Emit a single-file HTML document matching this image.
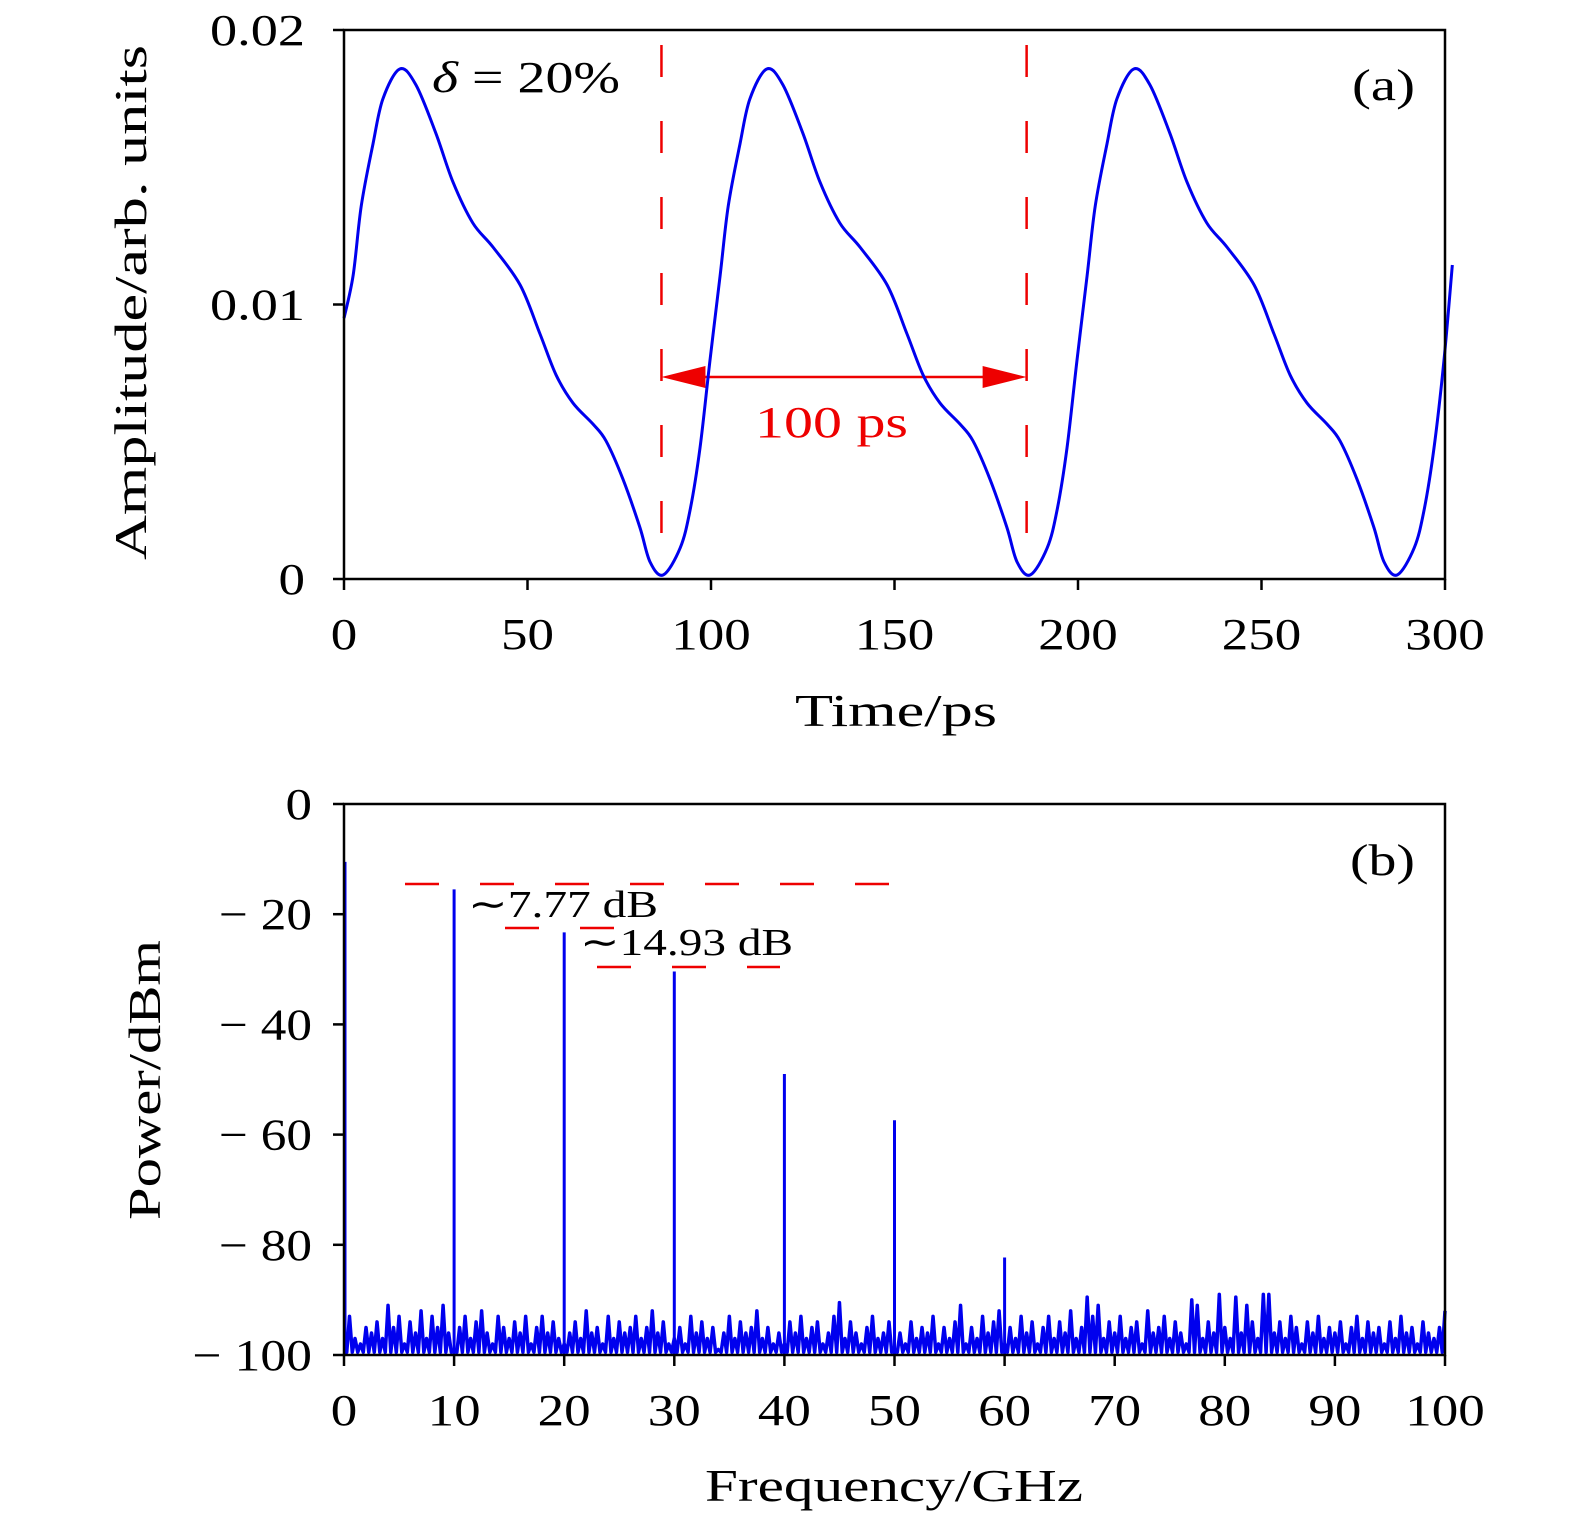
<!DOCTYPE html>
<html><head><meta charset="utf-8"><style>
body{margin:0;background:#fff}
svg text{font-family:"Liberation Serif",serif;fill:#000}
</style></head><body>
<svg id="c" width="1575" height="1535" viewBox="0 0 1575 1535" xmlns="http://www.w3.org/2000/svg"></svg>
<script>
// Panel (a) data
const timePs=[0,2.5,4.7,7.9,10.6,15.2,19.6,25,29.7,35.1,40.6,48,53.4,57.8,62.4,67.8,71.4,76,80.6,83.4,87,91.6,94.3,97,99.7,
102.5,104.7,107.9,110.6,115.2,119.6,125,129.7,135.1,140.6,148,153.4,157.8,162.4,167.8,171.4,176,180.6,183.4,187,191.6,194.3,197,199.7,
202.5,204.7,207.9,210.6,215.2,219.6,225,229.7,235.1,240.6,248,253.4,257.8,262.4,267.8,271.4,276,280.6,283.4,287,291.6,294.3,297,299.7,302];
const amplitude=[0.0095,0.01107,0.01359,0.01585,0.01749,0.01858,0.018,0.01625,0.01446,0.01297,0.01209,0.01071,0.00893,0.00743,0.00641,0.00565,0.00503,0.00364,0.00189,0.00062,0.00015,0.00113,0.00251,0.00477,0.00794,
0.01107,0.01359,0.01585,0.01749,0.01858,0.018,0.01625,0.01446,0.01297,0.01209,0.01071,0.00893,0.00743,0.00641,0.00565,0.00503,0.00364,0.00189,0.00062,0.00015,0.00113,0.00251,0.00477,0.00794,
0.01107,0.01359,0.01585,0.01749,0.01858,0.018,0.01625,0.01446,0.01297,0.01209,0.01071,0.00893,0.00743,0.00641,0.00565,0.00503,0.00364,0.00189,0.00062,0.00015,0.00113,0.00251,0.00477,0.00794,0.01144];
const xTicksA=[0,50,100,150,200,250,300];
const yTicksA=[0,0.01,0.02];
const yTickLabelsA=["0","0.01","0.02"];
// Panel (b) data
const peakFreqs=[0,10,20,30,40,50,60];
const peakPower=[-10.5,-15.5,-23.3,-30.4,-49,-57.4,-82.3];
const noiseStep=0.5;
const noisePower=[
-99,-93,-97,-98,-95,-96,-94,-97,-91,-95,-93,-98,-94,-96,-92,-97,-93,-95,-91,-96,
-99,-95,-93,-97,-94,-92,-96,-98,-93,-95,-97,-94,-96,-93,-98,-95,-93,-96,-94,-97,
-98,-96,-94,-97,-92,-96,-95,-98,-93,-97,-94,-96,-95,-93,-97,-95,-92,-96,-94,-98,
-97,-95,-98,-93,-96,-94,-97,-95,-99,-96,-93,-97,-94,-96,-95,-92,-97,-95,-98,-96,
-98,-94,-96,-93,-97,-95,-94,-98,-96,-93,-90.5,-97,-94,-96,-98,-95,-93,-97,-96,-94,
-99,-96,-98,-94,-97,-95,-96,-93,-98,-95,-97,-94,-91,-98,-95,-97,-93,-96,-94,-92,
-98,-95,-97,-93,-96,-94,-98,-95,-93,-97,-94,-96,-92,-97,-95,-89.5,-93,-91,-97,-94,
-96,-93,-97,-95,-94,-98,-92,-96,-95,-93,-97,-94,-96,-98,-90,-91,-97,-94,-96,-89,
-95,-97,-89.5,-96,-91,-94,-97,-89,-89,-96,-94,-97,-93,-95,-98,-94,-96,-93,-97,-95,
-96,-94,-98,-95,-93,-97,-94,-96,-95,-98,-94,-97,-93,-96,-95,-98,-94,-96,-97,-95,-92];
const noiseFloor=-99.5;
const xTicksB=[0,10,20,30,40,50,60,70,80,90,100];
const yTicksB=[0,-20,-40,-60,-80,-100];
const yTickLabelsB=["0","\u2212 20","\u2212 40","\u2212 60","\u2212 80","\u2212 100"];

const NS="http://www.w3.org/2000/svg";
const svg=document.getElementById('c');
function mk(tag,attrs,parent){const e=document.createElementNS(NS,tag);for(const k in attrs)e.setAttribute(k,attrs[k]);(parent||svg).appendChild(e);return e;}
function fit(e,len){e.setAttribute('textLength',len);e.setAttribute('lengthAdjust','spacingAndGlyphs');}
const L=344,R=1445;
const axA={t:30,b:579}, axB={t:804,b:1355};
const xA=t=>L+(t-0)/300*(R-L);
const yA=v=>axA.b-v/0.02*(axA.b-axA.t);
const xB=f=>L+f/100*(R-L);
const yB=p=>axB.t+(0-p)/100*(axB.b-axB.t);
const digitW=26.5;

function smoothPath(pts){let d=`M${pts[0][0]},${pts[0][1]}`;
 for(let i=0;i<pts.length-1;i++){const p0=pts[Math.max(0,i-1)],p1=pts[i],p2=pts[i+1],p3=pts[Math.min(pts.length-1,i+2)];
 const c1x=p1[0]+(p2[0]-p0[0])/6,c1y=p1[1]+(p2[1]-p0[1])/6,c2x=p2[0]-(p3[0]-p1[0])/6,c2y=p2[1]-(p3[1]-p1[1])/6;
 d+=` C${c1x},${c1y} ${c2x},${c2y} ${p2[0]},${p2[1]}`;}return d;}

// ---- Panel A ----
let g=mk('g',{});


[86.5,186].forEach(t=>{const l=mk('line',{x1:xA(t),x2:xA(t),y1:45,y2:572,stroke:'#e00',"stroke-width":2.5,"stroke-dasharray":"32,44"},g);
 });
let ar=mk('g',{},g);


mk('line',{x1:xA(86.5)+40,x2:xA(186)-40,y1:377,y2:377,stroke:'#e00',"stroke-width":2.5},ar);
mk('polygon',{points:`${xA(86.5)},377 ${xA(86.5)+44},366 ${xA(86.5)+44},388`,fill:'#e00'},ar);
mk('polygon',{points:`${xA(186)},377 ${xA(186)-44},366 ${xA(186)-44},388`,fill:'#e00'},ar);
let t1=mk('text',{x:755,y:437,"font-size":44,style:"fill:#e00"},g);t1.textContent="100 ps";fit(t1,153);

let pa=mk('path',{d:smoothPath(timePs.map((t,i)=>[xA(t),yA(amplitude[i])])),fill:'none',stroke:'#0000ee',"stroke-width":3},g);

mk('rect',{x:L,y:axA.t,width:R-L,height:axA.b-axA.t,fill:'none',stroke:'#000',"stroke-width":2.5},g);
xTicksA.forEach(t=>{mk('line',{x1:xA(t),x2:xA(t),y1:axA.b,y2:axA.b+11,stroke:'#000',"stroke-width":2.5},g);
 const s=String(t);const tx=mk('text',{x:xA(t)-s.length*digitW/2,y:649,"font-size":44},g);tx.textContent=s;fit(tx,s.length*digitW);
 });
yTicksA.forEach((v,i)=>{mk('line',{x1:L-11,x2:L,y1:yA(v),y2:yA(v),stroke:'#000',"stroke-width":2.5},g);
 const s=yTickLabelsA[i];const w=s.length===1?digitW:95;
 const tx=mk('text',{x:305-w,y:yA(v)+15,"font-size":44},g);tx.textContent=s;fit(tx,w);
 });
let xt=mk('text',{x:795,y:726,"font-size":46},g);xt.textContent="Time/ps";fit(xt,202);

let yt=mk('text',{x:0,y:0,"font-size":46,transform:"translate(146,560) rotate(-90)"},g);yt.textContent="Amplitude/arb. units";fit(yt,515);

let dl=mk('text',{x:432,y:92,"font-size":44},g);dl.innerHTML='<tspan font-style="italic">δ</tspan> = 20%';fit(dl,188);

let la=mk('text',{x:1352,y:100,"font-size":44},g);la.textContent="(a)";fit(la,63);


// ---- Panel B ----
g=mk('g',{});


let pts=[];noisePower.forEach((p,i)=>{const f=i*noiseStep;pts.push(`${xB(f)},${yB(p)}`);if(i<noisePower.length-1)pts.push(`${xB(f+noiseStep/2)},${yB(noiseFloor)}`);});
let nz=mk('polyline',{points:pts.join(' '),fill:'none',stroke:'#0000ee',"stroke-width":3.5,"stroke-linejoin":"round"},g);

peakFreqs.forEach((f,i)=>{const l=mk('line',{x1:xB(f)+(f===0?1:0),x2:xB(f)+(f===0?1:0),y1:yB(peakPower[i]),y2:yB(-100),stroke:'#0000ee',"stroke-width":3},g);
 });
[[405,890,884],[505,625,928],[597,780,967]].forEach(s=>{const l=mk('line',{x1:s[0],x2:s[1],y1:s[2],y2:s[2],stroke:'#e00',"stroke-width":2.5,"stroke-dasharray":"34,41"},g);
 });
let a1=mk('text',{x:468,y:917,"font-size":38},g);a1.textContent="∼7.77 dB";fit(a1,190);

let a2=mk('text',{x:580,y:955,"font-size":38},g);a2.textContent="∼14.93 dB";fit(a2,213);

mk('rect',{x:L,y:axB.t,width:R-L,height:axB.b-axB.t,fill:'none',stroke:'#000',"stroke-width":2.5},g);
xTicksB.forEach(f=>{mk('line',{x1:xB(f),x2:xB(f),y1:axB.b,y2:axB.b+11,stroke:'#000',"stroke-width":2.5},g);
 const s=String(f);const tx=mk('text',{x:xB(f)-s.length*digitW/2,y:1425,"font-size":44},g);tx.textContent=s;fit(tx,s.length*digitW);
 });
yTicksB.forEach((p,i)=>{mk('line',{x1:L-11,x2:L,y1:yB(p),y2:yB(p),stroke:'#000',"stroke-width":2.5},g);
 const s=yTickLabelsB[i];const nd=s.replace(/[^0-9]/g,'').length;const w=nd===1?digitW:(nd*digitW+40);
 const tx=mk('text',{x:312-w,y:yB(p)+15,"font-size":44},g);tx.textContent=s;fit(tx,w);
 });
xt=mk('text',{x:705,y:1501,"font-size":46},g);xt.textContent="Frequency/GHz";fit(xt,378);

yt=mk('text',{x:0,y:0,"font-size":46,transform:"translate(160,1220) rotate(-90)"},g);yt.textContent="Power/dBm";fit(yt,280);

la=mk('text',{x:1350,y:875,"font-size":44},g);la.textContent="(b)";fit(la,65);

</script>
</body></html>
